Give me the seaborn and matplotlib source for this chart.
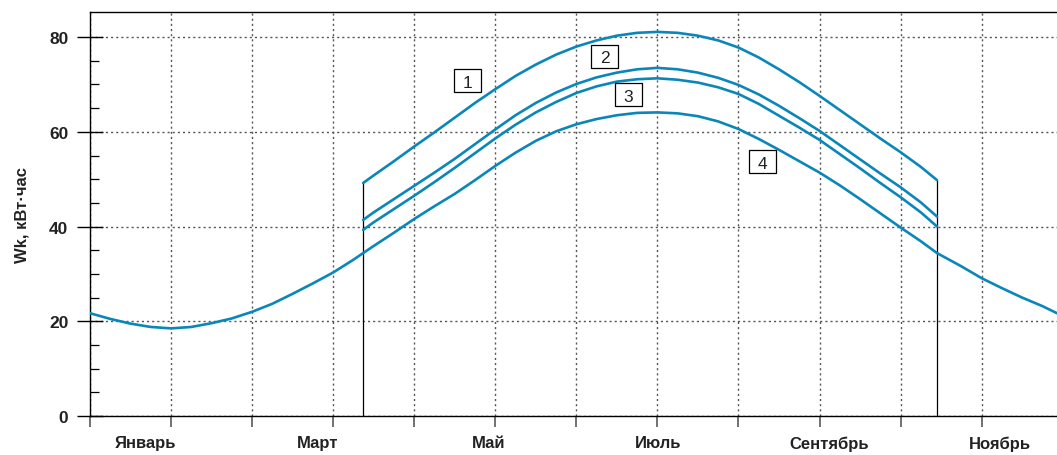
import matplotlib
matplotlib.use("Agg")
import matplotlib.pyplot as plt
from matplotlib.patches import Rectangle
from matplotlib.transforms import ScaledTranslation
import seaborn as sns
import numpy as np

# Month index (0 = start of January), quarter-month steps
t_year = [0, 0.25, 0.5, 0.75, 1, 1.25, 1.5, 1.75, 2, 2.25, 2.5, 2.75, 3, 3.25,
          3.37, 3.5, 3.75, 4, 4.25, 4.5, 4.75, 5, 5.25, 5.5, 5.75, 6, 6.25,
          6.5, 6.75, 7, 7.25, 7.5, 7.75, 8, 8.25, 8.5, 8.75, 9, 9.25, 9.5,
          9.75, 10, 10.25, 10.45, 10.75, 11, 11.25, 11.5, 11.75, 11.93]
w4 = [21.7, 20.5, 19.5, 18.8, 18.5, 18.8, 19.6, 20.6, 22.0, 23.7, 25.8, 28.0,
      30.3, 33.0, 34.4, 35.9, 38.7, 41.6, 44.3, 46.9, 49.8, 52.8, 55.6, 58.1,
      60.1, 61.6, 62.7, 63.5, 64.0, 64.1, 63.9, 63.3, 62.2, 60.6, 58.5, 56.2,
      53.8, 51.4, 48.7, 45.8, 42.8, 39.8, 36.9, 34.4, 31.6, 29.1, 27.0, 25.0,
      23.2, 21.7]

# Season curves 1-3 (from late March to mid November)
t_season = [3.37, 3.5, 3.75, 4, 4.25, 4.5, 4.75, 5, 5.25, 5.5, 5.75, 6, 6.25,
            6.5, 6.75, 7, 7.25, 7.5, 7.75, 8, 8.25, 8.5, 8.75, 9, 9.25, 9.5,
            9.75, 10, 10.25, 10.45]
w1 = [49.2, 50.8, 53.8, 56.9, 59.9, 63.0, 66.1, 69.0, 71.8, 74.2, 76.3, 78.0,
      79.3, 80.3, 80.9, 81.1, 80.9, 80.3, 79.3, 77.8, 75.7, 73.2, 70.5, 67.6,
      64.6, 61.6, 58.6, 55.7, 52.6, 49.8]
w2 = [41.4, 43.0, 45.8, 48.6, 51.4, 54.3, 57.4, 60.5, 63.5, 66.1, 68.3, 70.1,
      71.5, 72.5, 73.2, 73.5, 73.2, 72.5, 71.4, 69.9, 67.9, 65.5, 62.9, 60.2,
      57.2, 54.2, 51.2, 48.3, 45.1, 42.1]
w3 = [39.3, 40.9, 43.7, 46.5, 49.4, 52.4, 55.5, 58.6, 61.5, 64.1, 66.3, 68.2,
      69.6, 70.6, 71.1, 71.3, 71.0, 70.4, 69.4, 68.0, 65.9, 63.4, 60.9, 58.3,
      55.3, 52.3, 49.2, 46.2, 43.0, 40.0]

month_labels = ["Январь", "Март", "Май", "Июль", "Сентябрь", "Ноябрь"]
month_label_pos = [0.69, 2.81, 4.92, 7.01, 9.12, 11.22]

curve_tags = ["1", "2", "3", "4"]
tag_x = [4.66, 6.35, 6.64, 8.30]
tag_y = [70.8, 76.0, 67.8, 53.7]

y_major = [0, 20, 40, 60, 80]
y_minor = [5, 10, 15, 25, 30, 35, 45, 50, 55, 65, 70, 75]

sns.set_style("white")
plt.rcParams["font.family"] = ["Liberation Sans", "DejaVu Sans"]

W, H = 1057, 456
fig = plt.figure(figsize=(W / 100, H / 100), dpi=100)
ax = fig.add_axes([90 / W, (H - 417) / H, (W - 90) / W, (417 - 13) / H])

blue = "#0a87b8"
lw = 1.9
sns.lineplot(x=t_year, y=w4, ax=ax, color=blue, linewidth=lw, zorder=3)
for w in (w1, w2, w3):
    sns.lineplot(x=t_season, y=w, ax=ax, color=blue, linewidth=lw, zorder=3)

# Vertical boundaries of the season
ax.vlines([t_season[0], t_season[-1]], 0, [w1[0], w1[-1]],
          color="black", linewidth=0.9, zorder=2)

ax.set_xlim(0, 11.93)
ax.set_ylim(0, 85.3)

# X axis: month boundaries as major ticks, month names on zero-length minor ticks
ax.set_xticks(np.arange(0, 12))
ax.set_xticklabels([])
ax.set_xticks(month_label_pos, minor=True)
ax.set_xticklabels(month_labels, minor=True, fontsize=12, fontweight="bold",
                   color="#222222")
ax.tick_params(axis="x", which="both", bottom=True)
ax.tick_params(axis="x", which="major", direction="out", length=8,
               width=1.3, color="#666666")
ax.tick_params(axis="x", which="minor", length=0, pad=14)

ax.set_yticks(y_major)
ax.set_yticklabels([str(v) for v in y_major], fontsize=12.5, fontweight="bold",
                   color="#222222")
ax.set_yticks(y_minor, minor=True)
ax.tick_params(axis="y", which="both", left=True)
ax.tick_params(axis="y", which="major", direction="inout", length=19,
               width=1.0, color="black", pad=6)
ax.tick_params(axis="y", which="minor", direction="in", length=6.5,
               width=0.9, color="black")

ax.grid(True, which="major", linestyle=(0, (1.5, 2.2)), linewidth=1.0,
        color="#555555")
ax.set_axisbelow(True)

for side in ("left", "bottom", "top"):
    ax.spines[side].set_visible(True)
    ax.spines[side].set_color("black")
    ax.spines[side].set_linewidth(1.0)
ax.spines["right"].set_visible(False)

ax.set_xlabel("")
ax.set_ylabel("Wk, кВт·час", fontsize=12, fontweight="bold",
              color="#222222", labelpad=14)

# Curve number tags in framed boxes
for tag, x, y in zip(curve_tags, tag_x, tag_y):
    trans = fig.dpi_scale_trans + ScaledTranslation(x, y, ax.transData)
    ax.add_patch(Rectangle((-0.135, -0.115), 0.27, 0.23, transform=trans,
                           facecolor="white", edgecolor="black",
                           linewidth=0.9, zorder=4))
    ax.text(x, y, tag, ha="center", va="center_baseline", fontsize=12.5,
            color="#222222", zorder=5)

fig.savefig("out.png", dpi=100)
